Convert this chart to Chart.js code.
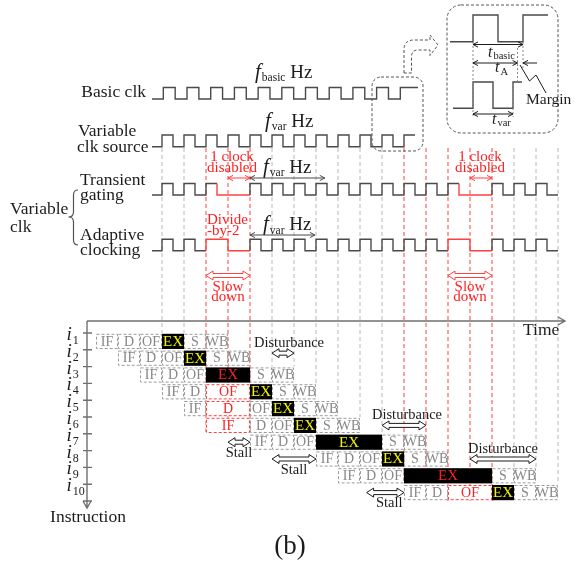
<!DOCTYPE html>
<html>
<head>
<meta charset="utf-8">
<script src="https://cdn.jsdelivr.net/npm/chart.js@4.4.1/dist/chart.umd.min.js"></script>
<style>
html, body { margin: 0; padding: 0; background: #fff; }
#diagram { display: block; width: 582px; height: 565px; }
</style>
</head>
<body>
<canvas id="diagram" width="582" height="565"></canvas>
<script>
// Pipeline data
const stages = ['IF', 'D', 'OF', 'EX', 'S', 'WB'];
const issueCycle = [-3, -2, -1, 0, 1, 2, 4, 7, 8, 11];
const stageCycles = [
    [1, 1, 1, 1, 1, 1],
    [1, 1, 1, 1, 1, 1],
    [1, 1, 1, 2, 1, 1],
    [1, 1, 2, 1, 1, 1],
    [1, 2, 1, 1, 1, 1],
    [2, 1, 1, 1, 1, 1],
    [1, 1, 1, 3, 1, 1],
    [1, 1, 1, 1, 1, 1],
    [1, 1, 1, 4, 1, 1],
    [1, 1, 2, 1, 1, 1]
];
const slowedStage = [null, null, 'EX', 'OF', 'D', 'IF', null, null, 'EX', 'OF'];

// Clock waveforms, one char per half period (1 = high, red mask marks slowed parts)
const basicClk        = '1010101010101010101010'.slice(0, 21);
const varClkSource    = '10 10 10 10 10 10 10 10 10 10 10 1';
const transientGating = '10 10 10 00 10 10 10 10 10 10 10 10 10 10 00 10 10 10';
const transientRed    = '00 00 01 11 00 00 00 00 00 00 00 00 00 01 11 00 00 00';
const adaptiveClk     = '10 10 11 00 10 10 10 10 10 10 10 10 10 11 00 10 10 10';
const adaptiveRed     = '00 00 11 11 00 00 00 00 00 00 00 00 00 11 11 00 00 00';
const insetBasic = '101';
const insetVar   = '101';

// Annotations (cycles / instruction rows)
const disturbFrom = [5, 10, 14];
const disturbTo   = [6, 12, 17];
const disturbRow  = [1.7, 6, 8];
const stallFrom = [3, 5, 9.3];
const stallTo   = [4, 7, 11];
const stallRow  = [7, 8, 10];
const disabledClock = [3, 14];
const slowDownFrom = [2, 13];
const slowDownTo   = [4, 15];

// Look
const FONT = '"Liberation Serif", "Times New Roman", serif';
const INK = '#1c1c1c';
const WAVE = '#4a4a4a';
const RED = '#ff4040';
const REDTXT = '#ff1f1f';
const GRID = '#b8b8b8';
const BOXLINE = '#9c9c9c';
const BOXTXT = '#878787';
const YELLOW = '#f5f500';

const CYCLE_PX = 22, ORIGIN_PX = 162;
const ROW_PITCH = 16.8, ROW1_CENTER = 341.4;

function clean(s) { return (s || '').replace(/ /g, ''); }

function wavePoints(levels, red, start, half, lead, end, yLow, yHigh) {
    const lv = clean(levels), rd = clean(red);
    const pts = [{ x: lead, y: yLow, red: false }, { x: start, y: yLow, red: false }];
    for (let i = 0; i < lv.length; i++) {
        const y = lv[i] === '1' ? yHigh : yLow;
        const r = rd[i] === '1';
        const x0 = start + i * half;
        const x1 = (i === lv.length - 1 && end != null) ? end : start + (i + 1) * half;
        pts.push({ x: x0, y: y, red: r }, { x: x1, y: y, red: r });
    }
    return pts;
}

function waveDataset(pts, xAxisID) {
    return {
        data: pts,
        xAxisID: xAxisID,
        yAxisID: 'y',
        borderColor: WAVE,
        borderWidth: 1.4,
        pointRadius: 0,
        tension: 0,
        fill: false,
        segment: { borderColor: c => pts[c.p1DataIndex].red ? RED : WAVE }
    };
}

const lead = -10 / CYCLE_PX;
const waves = [
    waveDataset(wavePoints(basicClk, null, 0.06, 23.7 / 44, lead, 256 / CYCLE_PX, 99, 87.5), 'x'),
    waveDataset(wavePoints(varClkSource, null, 0, 0.5, lead, null, 146.7, 135), 'x'),
    waveDataset(wavePoints(transientGating, transientRed, 0, 0.5, lead, null, 195, 183.5), 'x'),
    waveDataset(wavePoints(adaptiveClk, adaptiveRed, 0, 0.5, lead, null, 250.7, 239.3), 'x'),
    waveDataset(wavePoints(insetBasic, null, 473, 25, 450, null, 41.7, 15), 'xp'),
    waveDataset(wavePoints(insetVar, null, 473, 20, 453, 522, 108.3, 82), 'xp')
];

function sum(a) { return a.reduce((t, v) => t + v, 0); }
function stageSpan(i, name) {
    const k = stages.indexOf(name);
    const s0 = issueCycle[i] + sum(stageCycles[i].slice(0, k));
    return [s0, s0 + stageCycles[i][k]];
}

function txt(ctx, s, x, y, o) {
    o = o || {};
    ctx.font = (o.italic ? 'italic ' : '') + (o.size || 17.5) + 'px ' + FONT;
    ctx.fillStyle = o.color || INK;
    ctx.textAlign = o.align || 'left';
    ctx.textBaseline = o.base || 'middle';
    ctx.fillText(s, x, y);
}

function rich(ctx, x, y, parts) {
    ctx.textAlign = 'left';
    ctx.textBaseline = 'alphabetic';
    parts.forEach(p => {
        ctx.font = (p.italic ? 'italic ' : '') + p.size + 'px ' + FONT;
        ctx.fillStyle = p.color || INK;
        ctx.fillText(p.t, x, y + (p.dy || 0));
        x += ctx.measureText(p.t).width + (p.gap || 0);
    });
}

function hollowArrow(ctx, x1, x2, y, color) {
    const sh = 2, hh = 4.5, hl = 7;
    ctx.save();
    ctx.setLineDash([]);
    ctx.beginPath();
    ctx.moveTo(x1, y);
    ctx.lineTo(x1 + hl, y - hh);
    ctx.lineTo(x1 + hl, y - sh);
    ctx.lineTo(x2 - hl, y - sh);
    ctx.lineTo(x2 - hl, y - hh);
    ctx.lineTo(x2, y);
    ctx.lineTo(x2 - hl, y + hh);
    ctx.lineTo(x2 - hl, y + sh);
    ctx.lineTo(x1 + hl, y + sh);
    ctx.lineTo(x1 + hl, y + hh);
    ctx.closePath();
    ctx.fillStyle = '#fff';
    ctx.fill();
    ctx.strokeStyle = color;
    ctx.lineWidth = 1;
    ctx.stroke();
    ctx.restore();
}

function thinArrow(ctx, x1, x2, y, color, left, right) {
    const hl = 5, hh = 2.6;
    ctx.save();
    ctx.setLineDash([]);
    ctx.strokeStyle = color;
    ctx.lineWidth = 1;
    ctx.beginPath();
    ctx.moveTo(x1, y);
    ctx.lineTo(x2, y);
    if (left !== false) { ctx.moveTo(x1 + hl, y - hh); ctx.lineTo(x1, y); ctx.lineTo(x1 + hl, y + hh); }
    if (right !== false) { ctx.moveTo(x2 - hl, y - hh); ctx.lineTo(x2, y); ctx.lineTo(x2 - hl, y + hh); }
    ctx.stroke();
    ctx.restore();
}

function dashedLine(ctx, x1, y1, x2, y2, color, dash) {
    ctx.save();
    ctx.strokeStyle = color;
    ctx.lineWidth = 1;
    ctx.setLineDash(dash || [4, 3]);
    ctx.beginPath();
    ctx.moveTo(x1, y1);
    ctx.lineTo(x2, y2);
    ctx.stroke();
    ctx.restore();
}

function freq(ctx, x, y, sub) {
    rich(ctx, x, y, [
        { t: 'f', size: 21, italic: true, gap: 1 },
        { t: sub, size: 11.5, dy: 3.5 },
        { t: ' Hz', size: 19 }
    ]);
}

const diagram = {
    id: 'diagram',
    beforeDatasetsDraw(chart) {
        const ctx = chart.ctx, s = chart.scales;
        const X = v => s.x.getPixelForValue(v);
        const Y = v => s.y.getPixelForValue(v);
        const R = v => s.row.getPixelForValue(v);
        const nCycles = clean(transientGating).length / 2;

        // Vertical time grid: grey ends at first box, red runs through slowed stages
        for (let c = 0; c <= nCycles; c++) {
            let redBottom = null;
            issueCycle.forEach((st, i) => {
                if (!slowedStage[i]) return;
                const sp = stageSpan(i, slowedStage[i]);
                if (sp[0] <= c && c <= sp[1]) redBottom = R(i + 1.5);
            });
            if (redBottom !== null) {
                dashedLine(ctx, X(c), Y(148), X(c), redBottom, RED, [4, 3]);
                continue;
            }
            let bottom = R(10.5);
            for (let i = 0; i < issueCycle.length; i++) {
                const end = issueCycle[i] + sum(stageCycles[i]);
                if (issueCycle[i] <= c && c <= end) { bottom = R(i + 0.5); break; }
            }
            dashedLine(ctx, X(c), Y(148), X(c), bottom, GRID, [4, 3]);
        }
    },
    afterDatasetsDraw(chart) {
        const ctx = chart.ctx, s = chart.scales;
        const X = v => s.x.getPixelForValue(v);
        const P = v => s.xp.getPixelForValue(v);
        const Y = v => s.y.getPixelForValue(v);
        const R = v => s.row.getPixelForValue(v);
        ctx.save();

        // Lane labels
        txt(ctx, 'Basic clk', P(146), Y(92), { align: 'right' });
        txt(ctx, 'Variable', P(78), Y(131));
        txt(ctx, 'clk source', P(77), Y(147));
        txt(ctx, 'Transient', P(80), Y(180));
        txt(ctx, 'gating', P(80), Y(195));
        txt(ctx, 'Adaptive', P(80), Y(235));
        txt(ctx, 'clocking', P(80), Y(250));
        txt(ctx, 'Variable', P(10), Y(209));
        txt(ctx, 'clk', P(10), Y(227));

        // Curly brace
        ctx.strokeStyle = '#555';
        ctx.lineWidth = 1.2;
        ctx.setLineDash([]);
        ctx.beginPath();
        ctx.moveTo(P(78), Y(190));
        ctx.quadraticCurveTo(P(73.5), Y(190), P(73.5), Y(195));
        ctx.lineTo(P(73.5), Y(212));
        ctx.quadraticCurveTo(P(73.5), Y(217), P(68.5), Y(217));
        ctx.quadraticCurveTo(P(73.5), Y(217), P(73.5), Y(222));
        ctx.lineTo(P(73.5), Y(240));
        ctx.quadraticCurveTo(P(73.5), Y(245), P(78), Y(245));
        ctx.stroke();

        // Frequency labels and arrows
        freq(ctx, P(255), Y(77.5), 'basic');
        freq(ctx, P(265), Y(126.5), 'var');
        freq(ctx, P(263), Y(172.5), 'var');
        freq(ctx, P(263), Y(230), 'var');
        thinArrow(ctx, X(4), X(7.4), Y(178), WAVE);
        thinArrow(ctx, X(4), X(6.95), Y(235), WAVE);

        // Disabled clock / divide-by-2 / slow down notes
        const noteX = [232, 480];
        disabledClock.forEach((c, k) => {
            txt(ctx, '1 clock', P(noteX[k]), Y(157), { size: 15, color: REDTXT, align: 'center' });
            txt(ctx, 'disabled', P(noteX[k]), Y(168.5), { size: 15, color: REDTXT, align: 'center' });
            thinArrow(ctx, X(c), X(c + 1), Y(178), RED);
        });
        txt(ctx, 'Divide', P(207), Y(220), { size: 15, color: REDTXT });
        txt(ctx, '-by-2', P(207), Y(231.5), { size: 15, color: REDTXT });
        const slowX = [228, 470];
        slowDownFrom.forEach((c, k) => {
            hollowArrow(ctx, X(c), X(slowDownTo[k]), Y(275.5), RED);
            txt(ctx, 'Slow', P(slowX[k]), Y(287), { size: 15, color: REDTXT, align: 'center' });
            txt(ctx, 'down', P(slowX[k]), Y(297.5), { size: 15, color: REDTXT, align: 'center' });
        });

        // Clock zoom frame and curved arrow
        ctx.strokeStyle = '#555';
        ctx.lineWidth = 1;
        ctx.setLineDash([3, 2]);
        ctx.beginPath();
        ctx.roundRect(P(372), Y(77), P(423) - P(372), Y(151) - Y(77), 9);
        ctx.stroke();
        ctx.beginPath();
        ctx.moveTo(P(404), Y(73));
        ctx.lineTo(P(404), Y(50));
        ctx.quadraticCurveTo(P(404), Y(40), P(414), Y(40));
        ctx.lineTo(P(430), Y(40));
        ctx.lineTo(P(430), Y(35));
        ctx.lineTo(P(438), Y(45));
        ctx.lineTo(P(430), Y(55.5));
        ctx.lineTo(P(430), Y(50));
        ctx.lineTo(P(418), Y(50));
        ctx.quadraticCurveTo(P(411.5), Y(50), P(411.5), Y(57));
        ctx.lineTo(P(411.5), Y(73));
        ctx.closePath();
        ctx.stroke();

        // Inset frame
        ctx.beginPath();
        ctx.roundRect(P(447), Y(5), P(558) - P(447), Y(133) - Y(5), 14);
        ctx.stroke();
        dashedLine(ctx, P(473), Y(42), P(473), Y(117), '#8a8a8a', [2, 2]);
        dashedLine(ctx, P(523), Y(42), P(523), Y(68), '#8a8a8a', [2, 2]);
        dashedLine(ctx, P(517.5), Y(48), P(517.5), Y(82), '#8a8a8a', [2, 2]);
        dashedLine(ctx, P(513), Y(84), P(513), Y(117), '#8a8a8a', [2, 2]);
        thinArrow(ctx, P(473), P(523), Y(44.5), INK);
        thinArrow(ctx, P(473), P(517.5), Y(63), INK);
        thinArrow(ctx, P(523), P(537), Y(63), INK, true, false);
        thinArrow(ctx, P(473), P(513), Y(114), INK);
        rich(ctx, P(488), Y(56.5), [{ t: 't', size: 16, italic: true, gap: 1 }, { t: 'basic', size: 10.5, dy: 2.5 }]);
        rich(ctx, P(495), Y(72), [{ t: 't', size: 16, italic: true, gap: 1 }, { t: 'A', size: 10.5, dy: 3 }]);
        rich(ctx, P(492), Y(123.5), [{ t: 't', size: 16, italic: true, gap: 1 }, { t: 'var', size: 10.5, dy: 2.5 }]);
        txt(ctx, 'Margin', P(526), Y(100), { size: 15.5 });
        ctx.setLineDash([]);
        ctx.strokeStyle = INK;
        ctx.beginPath();
        ctx.moveTo(P(520), Y(65));
        ctx.lineTo(P(529.5), Y(81));
        ctx.lineTo(P(536), Y(75));
        ctx.lineTo(P(546), Y(93));
        ctx.stroke();

        // Pipeline axes
        const axisColor = '#707070';
        ctx.strokeStyle = axisColor;
        ctx.lineWidth = 1.4;
        ctx.beginPath();
        ctx.moveTo(P(87), Y(321));
        ctx.lineTo(P(565), Y(321));
        ctx.moveTo(P(558), Y(317));
        ctx.lineTo(P(565), Y(321));
        ctx.lineTo(P(558), Y(325));
        ctx.moveTo(P(87), Y(321));
        ctx.lineTo(P(87), Y(508));
        ctx.moveTo(P(83), Y(501));
        ctx.lineTo(P(87), Y(508));
        ctx.lineTo(P(91), Y(501));
        for (let k = 0; k <= issueCycle.length; k++) {
            ctx.moveTo(P(83), R(k + 0.5));
            ctx.lineTo(P(92), R(k + 0.5));
        }
        ctx.stroke();
        txt(ctx, 'Time', P(523), Y(330));
        txt(ctx, 'Instruction', P(88), Y(517), { align: 'center' });
        issueCycle.forEach((st, i) => {
            rich(ctx, P(66.5), R(i + 0.5) + 7, [
                { t: 'i', size: 19, italic: true, gap: 1 },
                { t: String(i + 1), size: 12, dy: 4 }
            ]);
        });

        // Pipeline boxes
        issueCycle.forEach((st, i) => {
            let c = st;
            const y0 = R(i + 0.5) + 0.8, y1 = R(i + 1.5) - 0.8;
            stages.forEach((name, k) => {
                const w = stageCycles[i][k];
                const x0 = X(c), x1 = X(c + w);
                const slow = slowedStage[i] === name;
                if (name === 'EX') {
                    ctx.fillStyle = '#000';
                    ctx.fillRect(x0, y0, x1 - x0, y1 - y0);
                    txt(ctx, name, (x0 + x1) / 2, (y0 + y1) / 2 + 0.5, { size: 15, color: slow ? REDTXT : YELLOW, align: 'center' });
                } else {
                    ctx.save();
                    if (slow) {
                        ctx.fillStyle = '#fff';
                        ctx.fillRect(x0, y0, x1 - x0, y1 - y0);
                    }
                    ctx.strokeStyle = slow ? RED : BOXLINE;
                    ctx.lineWidth = 1;
                    ctx.setLineDash([3, 2]);
                    ctx.strokeRect(x0 + 0.5, y0 + 0.5, x1 - x0 - 1, y1 - y0 - 1);
                    ctx.restore();
                    txt(ctx, name, (x0 + x1) / 2, (y0 + y1) / 2 + 0.5, { size: 14, color: slow ? REDTXT : BOXTXT, align: 'center' });
                }
                c += w;
            });
        });

        // Disturbance and stall markers
        disturbFrom.forEach((c, k) => {
            const y = R(disturbRow[k]);
            hollowArrow(ctx, X(c), X(disturbTo[k]), y, INK);
            const cx = k === 0 ? X(c) + 17 : (X(c) + X(disturbTo[k])) / 2 + (k === 1 ? 3 : 0);
            txt(ctx, 'Disturbance', cx, y - 10, { size: 14.5, align: 'center' });
        });
        stallFrom.forEach((c, k) => {
            const y = R(stallRow[k]);
            hollowArrow(ctx, X(c), X(stallTo[k]), y, INK);
            txt(ctx, 'Stall', (X(c) + X(stallTo[k])) / 2 + (k === 2 ? 4 : 0), y + 11, { size: 14.5, align: 'center' });
        });

        txt(ctx, '(b)', P(290), Y(547), { size: 27, align: 'center' });
        ctx.restore();
    }
};

new Chart(document.getElementById('diagram'), {
    type: 'line',
    data: { datasets: waves },
    options: {
        responsive: false,
        animation: false,
        devicePixelRatio: 1,
        events: [],
        layout: { padding: 0 },
        plugins: { legend: { display: false }, tooltip: { enabled: false } },
        scales: {
            x: { type: 'linear', min: -ORIGIN_PX / CYCLE_PX, max: (582 - ORIGIN_PX) / CYCLE_PX, display: false },
            xp: { type: 'linear', axis: 'x', min: 0, max: 582, display: false },
            y: { type: 'linear', min: 0, max: 565, reverse: true, display: false },
            row: {
                type: 'linear', axis: 'y', reverse: true, display: false,
                min: 1 - ROW1_CENTER / ROW_PITCH,
                max: 1 + (565 - ROW1_CENTER) / ROW_PITCH
            }
        }
    },
    plugins: [diagram]
});
</script>
</body>
</html>
